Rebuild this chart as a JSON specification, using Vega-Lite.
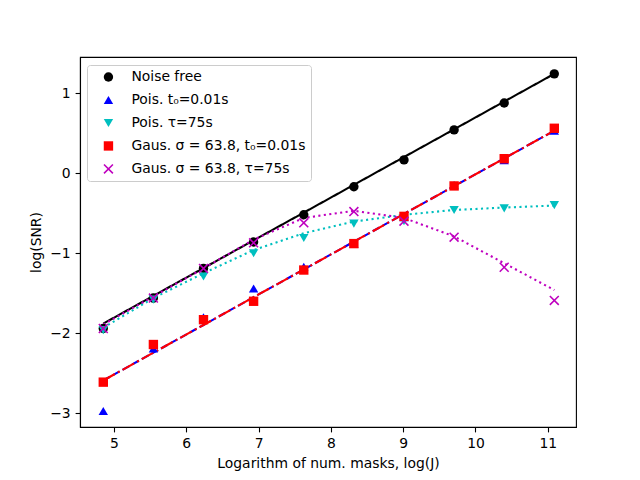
{
  "$schema": "https://vega.github.io/schema/vega-lite/v6.json",
  "width": 496,
  "height": 370,
  "autosize": {"type": "none"},
  "padding": {"left": 80, "top": 57, "right": 64, "bottom": 53},
  "background": "white",
  "datasets": {
    "curves": [
      {"logJ": 4.852, "snr": -1.879, "curve": "Noise free"},
      {"logJ": 5.545, "snr": -1.532, "curve": "Noise free"},
      {"logJ": 6.238, "snr": -1.186, "curve": "Noise free"},
      {"logJ": 6.931, "snr": -0.839, "curve": "Noise free"},
      {"logJ": 7.625, "snr": -0.493, "curve": "Noise free"},
      {"logJ": 8.318, "snr": -0.146, "curve": "Noise free"},
      {"logJ": 9.011, "snr": 0.201, "curve": "Noise free"},
      {"logJ": 9.704, "snr": 0.547, "curve": "Noise free"},
      {"logJ": 10.397, "snr": 0.894, "curve": "Noise free"},
      {"logJ": 11.09, "snr": 1.24, "curve": "Noise free"},
      {"logJ": 4.852, "snr": -2.589, "curve": "Pois t0"},
      {"logJ": 5.545, "snr": -2.242, "curve": "Pois t0"},
      {"logJ": 6.238, "snr": -1.896, "curve": "Pois t0"},
      {"logJ": 6.931, "snr": -1.549, "curve": "Pois t0"},
      {"logJ": 7.625, "snr": -1.203, "curve": "Pois t0"},
      {"logJ": 8.318, "snr": -0.856, "curve": "Pois t0"},
      {"logJ": 9.011, "snr": -0.509, "curve": "Pois t0"},
      {"logJ": 9.704, "snr": -0.163, "curve": "Pois t0"},
      {"logJ": 10.397, "snr": 0.184, "curve": "Pois t0"},
      {"logJ": 11.09, "snr": 0.53, "curve": "Pois t0"},
      {"logJ": 4.852, "snr": -1.93, "curve": "Pois tau"},
      {"logJ": 5.545, "snr": -1.56, "curve": "Pois tau"},
      {"logJ": 6.238, "snr": -1.25, "curve": "Pois tau"},
      {"logJ": 6.931, "snr": -0.96, "curve": "Pois tau"},
      {"logJ": 7.625, "snr": -0.75, "curve": "Pois tau"},
      {"logJ": 8.318, "snr": -0.605, "curve": "Pois tau"},
      {"logJ": 9.011, "snr": -0.52, "curve": "Pois tau"},
      {"logJ": 9.704, "snr": -0.46, "curve": "Pois tau"},
      {"logJ": 10.397, "snr": -0.43, "curve": "Pois tau"},
      {"logJ": 11.09, "snr": -0.405, "curve": "Pois tau"},
      {"logJ": 4.852, "snr": -2.589, "curve": "Gaus t0"},
      {"logJ": 5.545, "snr": -2.242, "curve": "Gaus t0"},
      {"logJ": 6.238, "snr": -1.896, "curve": "Gaus t0"},
      {"logJ": 6.931, "snr": -1.549, "curve": "Gaus t0"},
      {"logJ": 7.625, "snr": -1.203, "curve": "Gaus t0"},
      {"logJ": 8.318, "snr": -0.856, "curve": "Gaus t0"},
      {"logJ": 9.011, "snr": -0.509, "curve": "Gaus t0"},
      {"logJ": 9.704, "snr": -0.163, "curve": "Gaus t0"},
      {"logJ": 10.397, "snr": 0.184, "curve": "Gaus t0"},
      {"logJ": 11.09, "snr": 0.53, "curve": "Gaus t0"},
      {"logJ": 4.852, "snr": -1.89, "curve": "Gaus tau"},
      {"logJ": 5.545, "snr": -1.54, "curve": "Gaus tau"},
      {"logJ": 6.238, "snr": -1.19, "curve": "Gaus tau"},
      {"logJ": 6.931, "snr": -0.83, "curve": "Gaus tau"},
      {"logJ": 7.625, "snr": -0.56, "curve": "Gaus tau"},
      {"logJ": 8.318, "snr": -0.47, "curve": "Gaus tau"},
      {"logJ": 9.011, "snr": -0.56, "curve": "Gaus tau"},
      {"logJ": 9.704, "snr": -0.79, "curve": "Gaus tau"},
      {"logJ": 10.397, "snr": -1.125, "curve": "Gaus tau"},
      {"logJ": 11.09, "snr": -1.46, "curve": "Gaus tau"}
    ],
    "markers": [
      {"logJ": 4.852, "snr": -1.94, "series": "Noise free"},
      {"logJ": 5.545, "snr": -1.56, "series": "Noise free"},
      {"logJ": 6.238, "snr": -1.19, "series": "Noise free"},
      {"logJ": 6.931, "snr": -0.86, "series": "Noise free"},
      {"logJ": 7.625, "snr": -0.52, "series": "Noise free"},
      {"logJ": 8.318, "snr": -0.17, "series": "Noise free"},
      {"logJ": 9.011, "snr": 0.165, "series": "Noise free"},
      {"logJ": 9.704, "snr": 0.54, "series": "Noise free"},
      {"logJ": 10.397, "snr": 0.875, "series": "Noise free"},
      {"logJ": 11.09, "snr": 1.24, "series": "Noise free"},
      {"logJ": 4.852, "snr": -2.97, "series": "Pois. t₀=0.01s"},
      {"logJ": 5.545, "snr": -2.19, "series": "Pois. t₀=0.01s"},
      {"logJ": 6.238, "snr": -1.8, "series": "Pois. t₀=0.01s"},
      {"logJ": 6.931, "snr": -1.44, "series": "Pois. t₀=0.01s"},
      {"logJ": 7.625, "snr": -1.17, "series": "Pois. t₀=0.01s"},
      {"logJ": 8.318, "snr": -0.88, "series": "Pois. t₀=0.01s"},
      {"logJ": 9.011, "snr": -0.55, "series": "Pois. t₀=0.01s"},
      {"logJ": 9.704, "snr": -0.15, "series": "Pois. t₀=0.01s"},
      {"logJ": 10.397, "snr": 0.16, "series": "Pois. t₀=0.01s"},
      {"logJ": 11.09, "snr": 0.53, "series": "Pois. t₀=0.01s"},
      {"logJ": 4.852, "snr": -1.96, "series": "Pois. τ=75s"},
      {"logJ": 5.545, "snr": -1.58, "series": "Pois. τ=75s"},
      {"logJ": 6.238, "snr": -1.29, "series": "Pois. τ=75s"},
      {"logJ": 6.931, "snr": -1.0, "series": "Pois. τ=75s"},
      {"logJ": 7.625, "snr": -0.81, "series": "Pois. τ=75s"},
      {"logJ": 8.318, "snr": -0.63, "series": "Pois. τ=75s"},
      {"logJ": 9.011, "snr": -0.6, "series": "Pois. τ=75s"},
      {"logJ": 9.704, "snr": -0.46, "series": "Pois. τ=75s"},
      {"logJ": 10.397, "snr": -0.44, "series": "Pois. τ=75s"},
      {"logJ": 11.09, "snr": -0.4, "series": "Pois. τ=75s"},
      {"logJ": 4.852, "snr": -2.61, "series": "Gaus. σ = 63.8, t₀=0.01s"},
      {"logJ": 5.545, "snr": -2.14, "series": "Gaus. σ = 63.8, t₀=0.01s"},
      {"logJ": 6.238, "snr": -1.83, "series": "Gaus. σ = 63.8, t₀=0.01s"},
      {"logJ": 6.931, "snr": -1.6, "series": "Gaus. σ = 63.8, t₀=0.01s"},
      {"logJ": 7.625, "snr": -1.21, "series": "Gaus. σ = 63.8, t₀=0.01s"},
      {"logJ": 8.318, "snr": -0.88, "series": "Gaus. σ = 63.8, t₀=0.01s"},
      {"logJ": 9.011, "snr": -0.54, "series": "Gaus. σ = 63.8, t₀=0.01s"},
      {"logJ": 9.704, "snr": -0.16, "series": "Gaus. σ = 63.8, t₀=0.01s"},
      {"logJ": 10.397, "snr": 0.18, "series": "Gaus. σ = 63.8, t₀=0.01s"},
      {"logJ": 11.09, "snr": 0.56, "series": "Gaus. σ = 63.8, t₀=0.01s"},
      {"logJ": 4.852, "snr": -1.94, "series": "Gaus. σ = 63.8, τ=75s"},
      {"logJ": 5.545, "snr": -1.56, "series": "Gaus. σ = 63.8, τ=75s"},
      {"logJ": 6.238, "snr": -1.19, "series": "Gaus. σ = 63.8, τ=75s"},
      {"logJ": 6.931, "snr": -0.87, "series": "Gaus. σ = 63.8, τ=75s"},
      {"logJ": 7.625, "snr": -0.62, "series": "Gaus. σ = 63.8, τ=75s"},
      {"logJ": 8.318, "snr": -0.48, "series": "Gaus. σ = 63.8, τ=75s"},
      {"logJ": 9.011, "snr": -0.6, "series": "Gaus. σ = 63.8, τ=75s"},
      {"logJ": 9.704, "snr": -0.8, "series": "Gaus. σ = 63.8, τ=75s"},
      {"logJ": 10.397, "snr": -1.175, "series": "Gaus. σ = 63.8, τ=75s"},
      {"logJ": 11.09, "snr": -1.59, "series": "Gaus. σ = 63.8, τ=75s"}
    ]
  },
  "encoding": {
    "x": {
      "field": "logJ",
      "type": "quantitative",
      "title": "Logarithm of num. masks, log(J)",
      "scale": {"domain": [4.53, 11.39], "nice": false, "zero": false},
      "axis": {"values": [5, 6, 7, 8, 9, 10, 11], "format": "d", "titlePadding": 6}
    },
    "y": {
      "field": "snr",
      "type": "quantitative",
      "title": "log(SNR)",
      "scale": {"domain": [-3.17, 1.45], "nice": false, "zero": false},
      "axis": {"values": [-3, -2, -1, 0, 1], "format": "d", "titlePadding": 6}
    }
  },
  "layer": [
    {
      "data": {"name": "curves"},
      "mark": {"type": "line", "strokeWidth": 2.08},
      "encoding": {
        "stroke": {
          "field": "curve",
          "type": "nominal",
          "scale": {
            "domain": ["Noise free", "Pois t0", "Pois tau", "Gaus t0", "Gaus tau"],
            "range": ["#000000", "#0000ff", "#00bfbf", "#ff0000", "#bf00bf"]
          },
          "legend": null
        },
        "strokeDash": {
          "field": "curve",
          "type": "nominal",
          "scale": {
            "domain": ["Noise free", "Pois t0", "Pois tau", "Gaus t0", "Gaus tau"],
            "range": [[1, 0], [7.7, 3.3], [2.1, 3.4], [13.3, 3.3, 2.1, 3.3], [2.1, 3.4]]
          },
          "legend": null
        }
      }
    },
    {
      "data": {"name": "markers"},
      "mark": {"type": "point", "filled": true, "size": 88, "opacity": 1},
      "encoding": {
        "color": {
          "field": "series",
          "type": "nominal",
          "sort": null,
          "scale": {
            "domain": ["Noise free", "Pois. t₀=0.01s", "Pois. τ=75s", "Gaus. σ = 63.8, t₀=0.01s", "Gaus. σ = 63.8, τ=75s"],
            "range": ["#000000", "#0000ff", "#00bfbf", "#ff0000", "#bf00bf"]
          },
          "legend": {
            "orient": "none",
            "legendX": 7,
            "legendY": 8,
            "title": null,
            "padding": 5,
            "cornerRadius": 3,
            "strokeColor": "#cccccc",
            "fillColor": "rgba(255,255,255,0.8)",
            "labelFont": "DejaVu Sans",
            "labelFontSize": 13.9,
            "labelColor": "black",
            "labelLimit": 400,
            "labelOffset": 16,
            "symbolOffset": 9.5,
            "symbolSize": 88,
            "symbolStrokeWidth": 0,
            "rowPadding": 8
          }
        },
        "shape": {
          "field": "series",
          "type": "nominal",
          "sort": null,
          "scale": {
            "domain": ["Noise free", "Pois. t₀=0.01s", "Pois. τ=75s", "Gaus. σ = 63.8, t₀=0.01s", "Gaus. σ = 63.8, τ=75s"],
            "range": ["circle", "triangle-up", "triangle-down", "square", "M-0.832,-1.068L1.068,0.832L0.832,1.068L-1.068,-0.832ZM0.832,-1.068L1.068,-0.832L-0.832,1.068L-1.068,0.832Z"]
          }
        }
      }
    }
  ],
  "config": {
    "font": "DejaVu Sans",
    "view": {"stroke": "black", "strokeWidth": 1.1},
    "axis": {
      "grid": false,
      "domainColor": "black",
      "domainWidth": 1.1,
      "tickColor": "black",
      "tickWidth": 1.1,
      "tickSize": 4.9,
      "labelFont": "DejaVu Sans",
      "labelFontSize": 13.9,
      "labelColor": "black",
      "labelPadding": 4.9,
      "titleFont": "DejaVu Sans",
      "titleFontSize": 13.9,
      "titleFontWeight": "normal",
      "titleColor": "black"
    }
  }
}
